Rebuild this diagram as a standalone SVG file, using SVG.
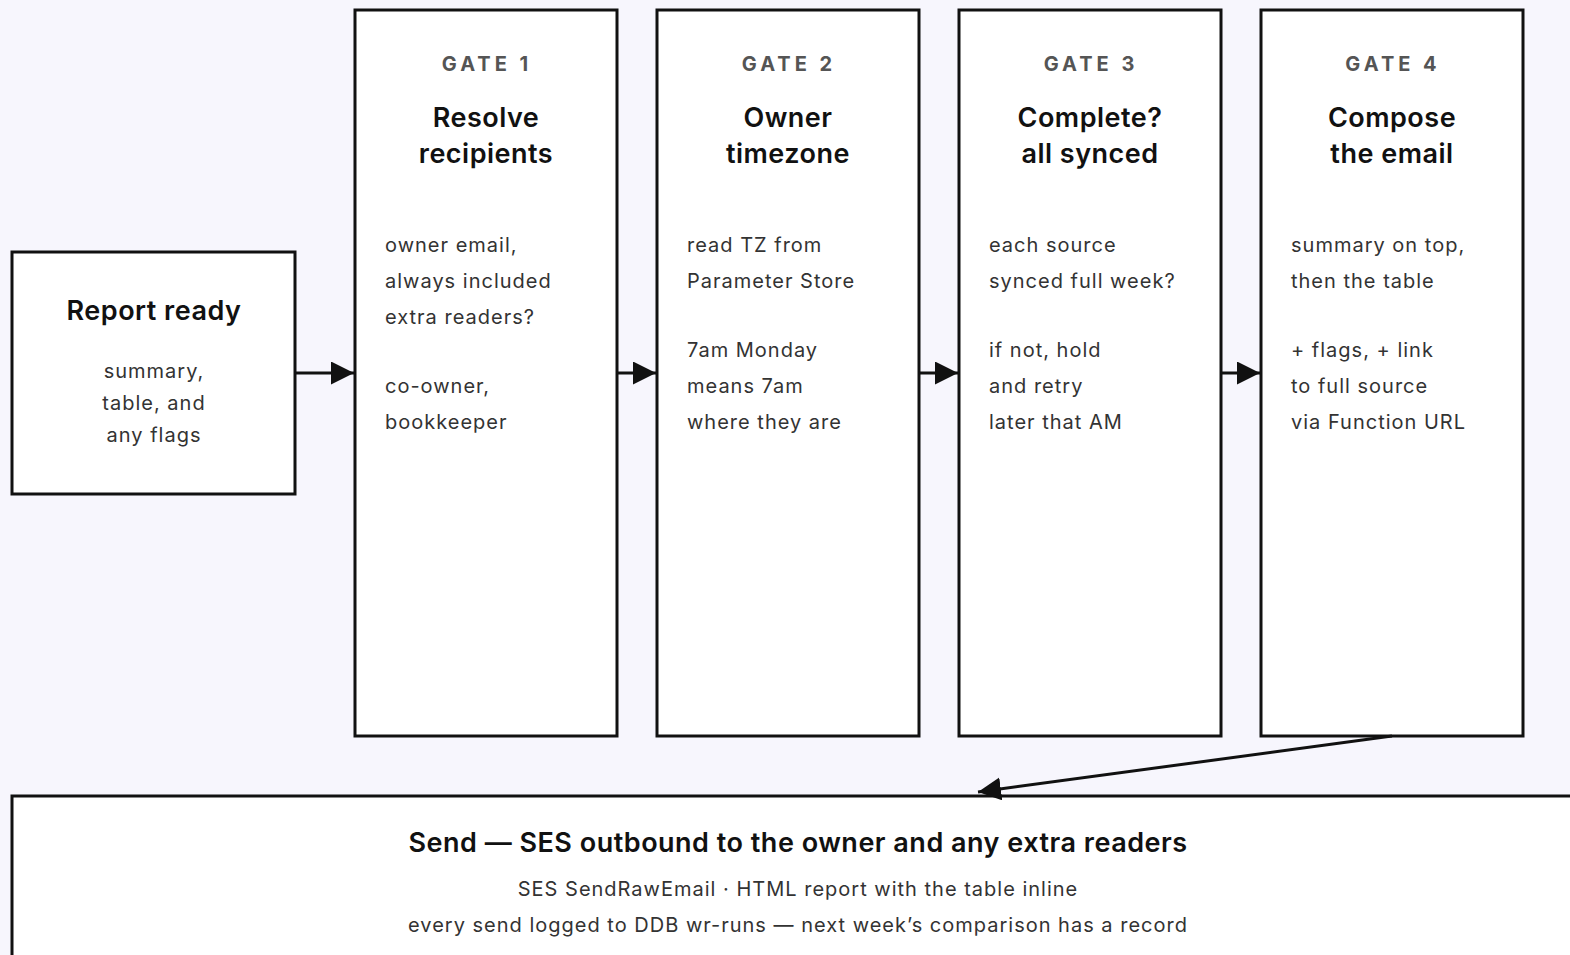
<svg xmlns="http://www.w3.org/2000/svg" width="1570" height="955" viewBox="0 0 1570 955">
  <defs>
    <marker id="arrow" markerUnits="userSpaceOnUse" markerWidth="24" markerHeight="24" refX="23" refY="11.5" orient="auto">
      <path d="M0,0 L23,11.5 L0,23 Z" fill="#111"/>
    </marker>
    <style>
      .box { fill: #fff; stroke: #111; stroke-width: 3; }
      .title { font-family: Inter, "Liberation Sans", sans-serif; font-size: 27px; font-weight: 600; fill: #111; text-anchor: middle; letter-spacing: 0.5px; }
      .gate { font-family: Inter, "Liberation Sans", sans-serif; font-size: 20px; font-weight: 700; fill: #555; text-anchor: middle; letter-spacing: 4px; }
      .body { font-family: Inter, "Liberation Sans", sans-serif; font-size: 20px; fill: #333; letter-spacing: 1px; }
      .mid { text-anchor: middle; }
      .edge { stroke: #111; stroke-width: 3; fill: none; marker-end: url(#arrow); }
    </style>
  </defs>
  <rect width="1570" height="955" fill="#f7f6fd"/>

  <g id="report-ready">
    <rect class="box" x="12" y="252" width="283" height="242"/>
    <text class="title" x="154" y="320">Report ready</text>
    <text class="body mid" x="154" y="378">summary,</text>
    <text class="body mid" x="154" y="410">table, and</text>
    <text class="body mid" x="154" y="442">any flags</text>
  </g>

  <g id="gate-1">
    <rect class="box" x="355" y="10" width="262" height="726"/>
    <text class="gate" x="487" y="71">GATE 1</text>
    <text class="title" x="486" y="127">Resolve</text>
    <text class="title" x="486" y="163">recipients</text>
    <text class="body" x="385" y="252">owner email,</text>
    <text class="body" x="385" y="288">always included</text>
    <text class="body" x="385" y="324">extra readers?</text>
    <text class="body" x="385" y="393">co-owner,</text>
    <text class="body" x="385" y="429">bookkeeper</text>
  </g>

  <g id="gate-2">
    <rect class="box" x="657" y="10" width="262" height="726"/>
    <text class="gate" x="789" y="71">GATE 2</text>
    <text class="title" x="788" y="127">Owner</text>
    <text class="title" x="788" y="163">timezone</text>
    <text class="body" x="687" y="252">read TZ from</text>
    <text class="body" x="687" y="288">Parameter Store</text>
    <text class="body" x="687" y="357">7am Monday</text>
    <text class="body" x="687" y="393">means 7am</text>
    <text class="body" x="687" y="429">where they are</text>
  </g>

  <g id="gate-3">
    <rect class="box" x="959" y="10" width="262" height="726"/>
    <text class="gate" x="1091" y="71">GATE 3</text>
    <text class="title" x="1090" y="127">Complete?</text>
    <text class="title" x="1090" y="163">all synced</text>
    <text class="body" x="989" y="252">each source</text>
    <text class="body" x="989" y="288">synced full week?</text>
    <text class="body" x="989" y="357">if not, hold</text>
    <text class="body" x="989" y="393">and retry</text>
    <text class="body" x="989" y="429">later that AM</text>
  </g>

  <g id="gate-4">
    <rect class="box" x="1261" y="10" width="262" height="726"/>
    <text class="gate" x="1393" y="71">GATE 4</text>
    <text class="title" x="1392" y="127">Compose</text>
    <text class="title" x="1392" y="163">the email</text>
    <text class="body" x="1291" y="252">summary on top,</text>
    <text class="body" x="1291" y="288">then the table</text>
    <text class="body" x="1291" y="357">+ flags, + link</text>
    <text class="body" x="1291" y="393">to full source</text>
    <text class="body" x="1291" y="429">via Function URL</text>
  </g>

  <g id="send">
    <rect class="box" x="12" y="796" width="1572" height="180"/>
    <text class="title" x="798" y="852">Send — SES outbound to the owner and any extra readers</text>
    <text class="body mid" x="798" y="896">SES SendRawEmail · HTML report with the table inline</text>
    <text class="body mid" x="798" y="932">every send logged to DDB wr-runs — next week’s comparison has a record</text>
  </g>

  <g id="connectors">
    <line class="edge" x1="295" y1="373" x2="354" y2="373"/>
    <line class="edge" x1="617" y1="373" x2="656" y2="373"/>
    <line class="edge" x1="919" y1="373" x2="958" y2="373"/>
    <line class="edge" x1="1221" y1="373" x2="1260" y2="373"/>
    <line class="edge" x1="1392" y1="736" x2="978" y2="792"/>
  </g>
</svg>
